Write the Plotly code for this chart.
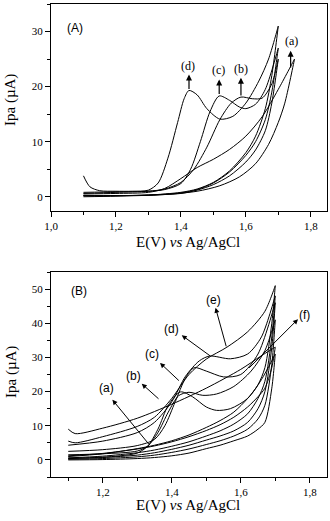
import plotly.graph_objects as go

# ---------------- Panel A data (E in V, I in uA) ----------------
A_names = ["a", "b", "c", "d"]
A_fwd_x = {
    "a": [1.10, 1.20, 1.30, 1.35, 1.40, 1.45, 1.50, 1.55, 1.60, 1.65, 1.70, 1.75],
    "b": [1.10, 1.20, 1.30, 1.35, 1.40, 1.44, 1.48, 1.52, 1.555, 1.585, 1.62, 1.65, 1.68, 1.70],
    "c": [1.10, 1.20, 1.30, 1.35, 1.40, 1.43, 1.46, 1.49, 1.518, 1.55, 1.58, 1.60, 1.63, 1.66, 1.70],
    "d": [1.10, 1.12, 1.15, 1.20, 1.25, 1.30, 1.33, 1.36, 1.39, 1.41, 1.425, 1.45, 1.48, 1.52, 1.56, 1.60, 1.64, 1.67, 1.70],
}
A_fwd_y = {
    "a": [0.5, 0.6, 0.8, 1.5, 3.3, 5.3, 6.8, 8.6, 11.0, 14.5, 19.5, 25.0],
    "b": [0.6, 0.8, 1.0, 1.4, 2.6, 5.0, 9.0, 14.0, 17.0, 18.1, 17.8, 17.9, 20.5, 25.0],
    "c": [0.8, 0.9, 1.0, 1.3, 2.4, 5.0, 10.0, 15.5, 18.3, 17.5, 16.3, 16.0, 16.8, 19.5, 27.0],
    "d": [3.8, 1.8, 1.1, 1.0, 1.0, 1.2, 2.5, 7.0, 13.5, 17.8, 19.3, 18.5, 16.0, 14.1, 14.6, 17.0, 21.0, 25.0, 31.0],
}
A_rev_x = {
    "a": [1.75, 1.72, 1.70, 1.67, 1.63, 1.58, 1.52, 1.45, 1.35, 1.20, 1.10],
    "b": [1.70, 1.68, 1.66, 1.63, 1.60, 1.55, 1.50, 1.45, 1.40, 1.30, 1.20, 1.10],
    "c": [1.70, 1.68, 1.66, 1.63, 1.60, 1.55, 1.50, 1.45, 1.40, 1.30, 1.20, 1.10],
    "d": [1.70, 1.68, 1.66, 1.63, 1.60, 1.55, 1.50, 1.45, 1.40, 1.30, 1.20, 1.10],
}
A_rev_y = {
    "a": [25.0, 17.0, 13.5, 9.5, 6.0, 3.6, 2.0, 1.0, 0.4, 0.1, 0.0],
    "b": [25.0, 17.0, 12.0, 8.5, 6.3, 3.8, 2.2, 1.2, 0.6, 0.3, 0.2, 0.2],
    "c": [27.0, 19.0, 14.0, 10.0, 7.5, 4.5, 2.5, 1.3, 0.7, 0.3, 0.2, 0.2],
    "d": [31.0, 22.0, 16.0, 11.0, 8.0, 4.7, 2.6, 1.4, 0.8, 0.3, 0.2, 0.2],
}

# ---------------- Panel B data ----------------
B_names = ["a", "b", "c", "d", "e", "f"]
B_fwd_x = {
    "a": [1.10, 1.15, 1.20, 1.25, 1.30, 1.33, 1.36, 1.39, 1.425, 1.46, 1.50, 1.53, 1.57, 1.62, 1.66, 1.70],
    "b": [1.10, 1.20, 1.30, 1.33, 1.36, 1.39, 1.42, 1.45, 1.49, 1.53, 1.58, 1.63, 1.67, 1.70],
    "c": [1.10, 1.20, 1.30, 1.35, 1.38, 1.41, 1.44, 1.465, 1.50, 1.55, 1.60, 1.65, 1.70],
    "d": [1.10, 1.20, 1.30, 1.35, 1.40, 1.44, 1.48, 1.51, 1.57, 1.62, 1.66, 1.70],
    "e": [1.10, 1.12, 1.20, 1.30, 1.35, 1.40, 1.45, 1.50, 1.56, 1.62, 1.67, 1.70],
    "f": [1.10, 1.12, 1.20, 1.30, 1.40, 1.50, 1.60, 1.66, 1.70],
}
B_fwd_y = {
    "a": [0.5, 0.6, 0.8, 1.2, 2.0, 4.0, 9.0, 16.0, 19.9, 18.5, 15.5, 14.5, 15.0, 18.0, 23.5, 31.0],
    "b": [1.5, 1.8, 2.6, 4.0, 8.0, 14.0, 18.8, 19.8, 18.9, 19.3, 21.5, 26.0, 32.0, 41.0],
    "c": [2.5, 3.0, 4.2, 6.0, 10.0, 17.0, 24.0, 27.0, 26.0, 24.3, 25.0, 31.0, 46.0],
    "d": [4.3, 5.5, 8.0, 11.0, 17.0, 24.5, 29.0, 30.4, 29.6, 31.0, 36.0, 48.0],
    "e": [5.5, 5.0, 6.8, 9.8, 12.5, 18.0, 25.0, 29.5, 33.0, 37.5, 43.5, 51.0],
    "f": [9.0, 7.7, 9.3, 12.2, 16.3, 21.0, 26.5, 30.5, 33.0],
}
B_rev_x = [1.70, 1.69, 1.67, 1.65, 1.62, 1.58, 1.54, 1.50, 1.45, 1.40, 1.35, 1.30, 1.20, 1.10]
B_rev_y = {
    "a": [31.0, 21.0, 11.0, 9.0, 7.0, 5.6, 4.3, 3.3, 2.0, 1.2, 0.7, 0.4, 0.1, 0.0],
    "b": [41.0, 28.0, 16.0, 12.0, 9.0, 7.0, 5.6, 4.5, 3.2, 2.2, 1.4, 0.9, 0.4, 0.2],
    "c": [46.0, 33.0, 20.0, 15.0, 11.0, 8.5, 7.0, 5.8, 4.3, 3.1, 2.1, 1.4, 0.7, 0.4],
    "d": [48.0, 36.0, 23.0, 18.0, 13.5, 10.5, 8.5, 7.0, 5.3, 4.0, 2.9, 2.1, 1.1, 0.6],
    "e": [51.0, 40.0, 27.0, 22.0, 18.0, 14.0, 11.5, 9.5, 7.3, 5.6, 4.3, 3.3, 1.8, 1.0],
    "f": [33.0, 27.0, 21.0, 18.5, 15.5, 12.5, 10.3, 8.6, 6.8, 5.3, 4.1, 3.2, 1.9, 1.2],
}

# arrows / labels: (label, label x, label y, tail x, tail y, head x, head y)
A_labels = [
    ("(a)", 1.741, 28.3, 1.738, 23.2, 1.738, 26.5),
    ("(b)", 1.584, 23.2, 1.585, 18.1, 1.585, 21.6),
    ("(c)", 1.517, 23.0, 1.518, 18.4, 1.518, 21.3),
    ("(d)", 1.422, 23.8, 1.425, 19.3, 1.425, 22.2),
]
B_labels = [
    ("(a)", 1.211, 21.0, 1.337, 4.2, 1.228, 17.6),
    ("(b)", 1.289, 24.5, 1.366, 17.5, 1.313, 22.3),
    ("(c)", 1.342, 31.0, 1.425, 22.8, 1.366, 28.4),
    ("(d)", 1.400, 38.3, 1.516, 30.1, 1.429, 36.5),
    ("(e)", 1.520, 46.9, 1.559, 32.8, 1.527, 44.5),
    ("(f)", 1.786, 42.4, 1.620, 26.5, 1.766, 41.2),
]

SERIF = "Liberation Serif, Times New Roman, serif"
SANS = "Liberation Sans, Arial, sans-serif"
line = dict(color="black", width=1, shape="spline", smoothing=0.8)

fig = go.Figure()
for n in A_names:
    fig.add_trace(go.Scatter(x=A_fwd_x[n] + A_rev_x[n], y=A_fwd_y[n] + A_rev_y[n],
                             mode="lines", line=line, xaxis="x", yaxis="y", showlegend=False))
for n in B_names:
    fig.add_trace(go.Scatter(x=B_fwd_x[n] + B_rev_x, y=B_fwd_y[n] + B_rev_y[n],
                             mode="lines", line=line, xaxis="x2", yaxis="y2", showlegend=False))

ann = []
for (t, lx, ly, tx, ty, hx, hy) in A_labels:
    ann.append(dict(x=lx, y=ly, xref="x", yref="y", text=t, showarrow=False,
                    xanchor="center", yanchor="middle",
                    font=dict(family=SERIF, size=12, color="black")))
    ann.append(dict(x=hx, y=hy, ax=tx, ay=ty, xref="x", yref="y", axref="x", ayref="y",
                    text="", showarrow=True, arrowhead=2, arrowsize=1, arrowwidth=1.2,
                    arrowcolor="black"))
for (t, lx, ly, tx, ty, hx, hy) in B_labels:
    ann.append(dict(x=lx, y=ly, xref="x2", yref="y2", text=t, showarrow=False,
                    xanchor="center", yanchor="middle",
                    font=dict(family=SANS, size=12, color="black")))
    ann.append(dict(x=hx, y=hy, ax=tx, ay=ty, xref="x2", yref="y2", axref="x2", ayref="y2",
                    text="", showarrow=True, arrowhead=2, arrowsize=1, arrowwidth=1,
                    arrowcolor="black"))

ann.append(dict(x=1.074, y=30.6, xref="x", yref="y", text="(A)", showarrow=False,
                xanchor="center", yanchor="middle",
                font=dict(family=SANS, size=12, color="black")))
ann.append(dict(x=1.131, y=49.4, xref="x2", yref="y2", text="(B)", showarrow=False,
                xanchor="center", yanchor="middle",
                font=dict(family=SANS, size=12, color="black")))

# axis titles
for yc in [243, 505]:
    ann.append(dict(x=(188 - 51) / 276, y=(477 - yc) / 473, xref="paper", yref="paper",
                    xanchor="center", yanchor="middle",
                    text="E(V) <i>vs</i> Ag/AgCl", showarrow=False,
                    font=dict(family=SERIF, size=15, color="black")))
for yc in [100, 372]:
    ann.append(dict(x=-(51 - 11) / 276, y=(477 - yc) / 473, xref="paper", yref="paper",
                    xanchor="center", yanchor="middle",
                    text="Ipa (\u00b5A)", textangle=-90, showarrow=False,
                    font=dict(family=SERIF, size=15, color="black")))

axis_common = dict(showline=True, linecolor="black", linewidth=1, mirror=True,
                   ticks="outside", ticklen=5, tickwidth=1, tickcolor="black",
                   showgrid=False, zeroline=False,
                   tickfont=dict(family=SERIF, size=11, color="black"))

fig.update_layout(
    width=330, height=521,
    margin=dict(l=51, r=3, t=4, b=44),
    paper_bgcolor="white", plot_bgcolor="white",
    separators=", ",
    annotations=ann,
    xaxis=dict(domain=[0, 1], range=[1.0, 1.85], anchor="y", tickvals=[1.0, 1.2, 1.4, 1.6, 1.8],
               tickformat=".1f", minor=dict(dtick=0.1, tick0=1.0, ticks="outside", ticklen=3,
                                            tickcolor="black"), **axis_common),
    yaxis=dict(domain=[0.5634, 1], range=[-2.5, 35], anchor="x", tickvals=[0, 10, 20, 30],
               minor=dict(dtick=5, tick0=0, ticks="outside", ticklen=3, tickcolor="black"),
               **axis_common),
    xaxis2=dict(domain=[0, 1], range=[1.05, 1.85], anchor="y2", tickvals=[1.2, 1.4, 1.6, 1.8],
                tickformat=".1f", minor=dict(dtick=0.1, tick0=1.0, ticks="outside", ticklen=3,
                                             tickcolor="black"), **axis_common),
    yaxis2=dict(domain=[0, 0.4334], range=[-5, 55], anchor="x2", tickvals=[0, 10, 20, 30, 40, 50],
                minor=dict(dtick=5, tick0=0, ticks="outside", ticklen=3, tickcolor="black"),
                **axis_common),
)

fig.write_html("out.html", config={"displayModeBar": False},
               post_script="document.body.style.margin='0';document.body.style.overflow='hidden';")
